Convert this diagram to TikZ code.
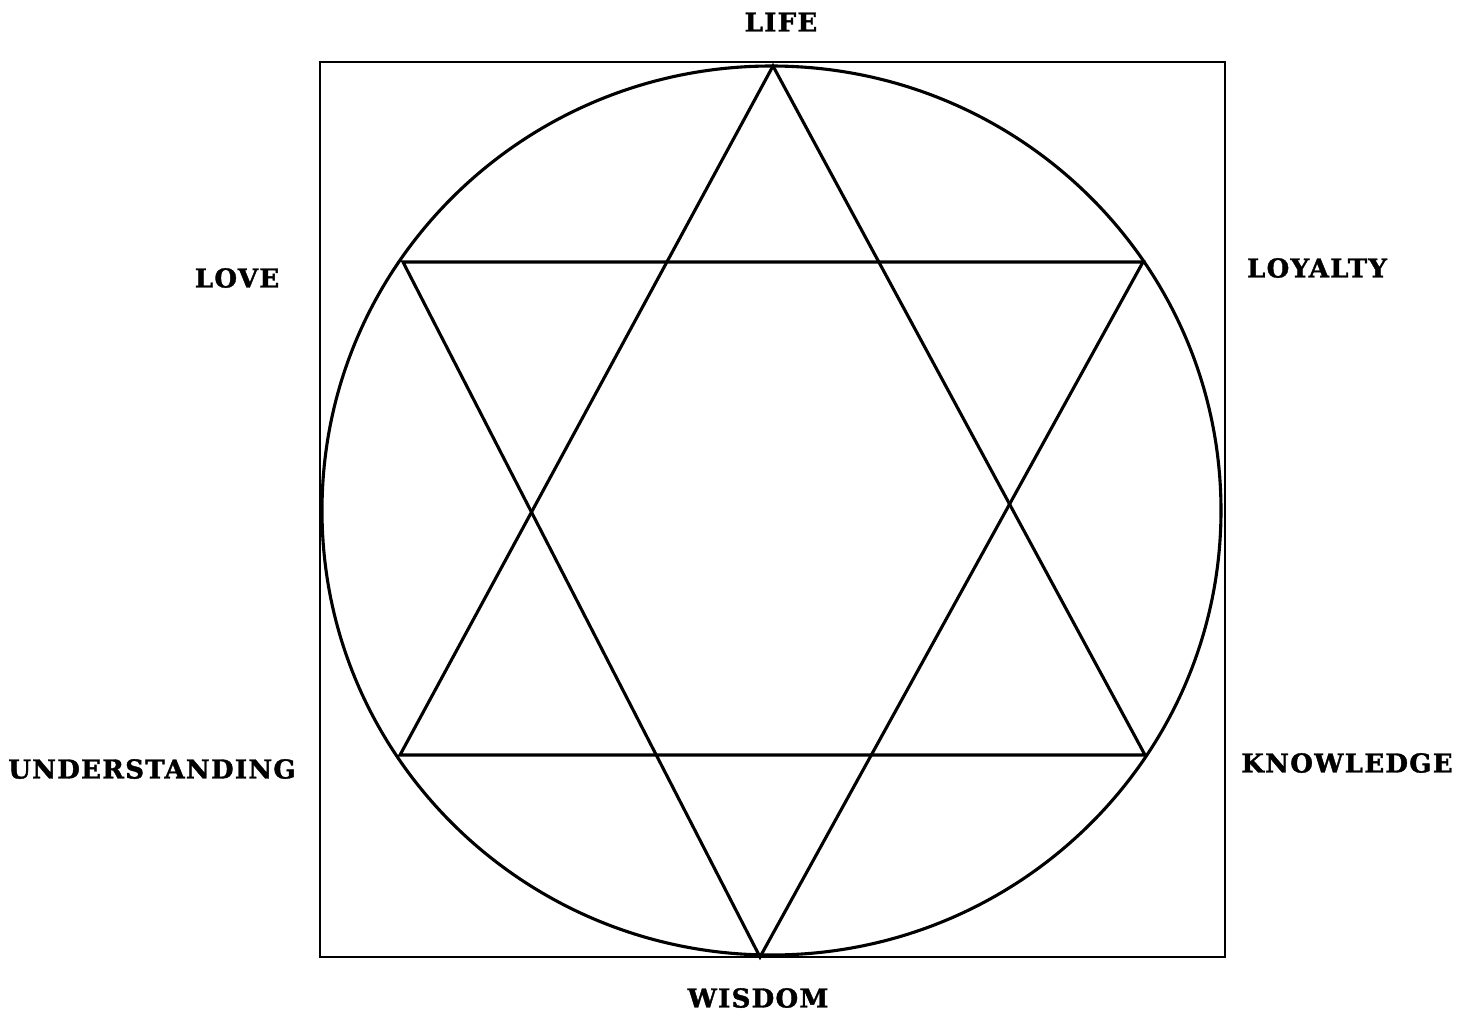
\documentclass[tikz,border=0pt]{standalone}
\usepackage{fontspec}
\setmainfont{DejaVu Serif}[LetterSpace=5, BoldFeatures={FakeBold=1.5}]
\begin{document}
\begin{tikzpicture}[x=1pt,y=-1pt,
  lbl/.style={font=\fontsize{26}{28}\selectfont\bfseries, inner sep=0pt},
  edge/.style={line width=3.1pt, line join=miter},
  frame/.style={line width=2.4pt}]
\useasboundingbox (0,0) rectangle (1457,1012);
\fill[white] (0,0) rectangle (1457,1012);
% frame and circle
\draw[frame] (320,62) rectangle (1225,957);
\draw[edge] (771.5,510.5) ellipse [x radius=449.5, y radius=444.5];
% star vertices
\coordinate (T) at (773,66);
\coordinate (BL) at (400,755);
\coordinate (BR) at (1145,755);
\coordinate (TL) at (403,262);
\coordinate (TR) at (1143,262);
\coordinate (B) at (760,957);
\draw[edge] (T) -- (BR) -- (BL) -- cycle;
\draw[edge] (TL) -- (TR) -- (B) -- cycle;
% labels
\node[lbl] (life) at (781,22) {LIFE};
\node[lbl] (love) at (237,278) {LOVE};
\node[lbl] (loyalty) at (1317,268) {LOYALTY};
\node[lbl] (und) at (152,769) {UNDERSTANDING};
\node[lbl] (know) at (1347,763) {KNOWLEDGE};
\node[lbl] (wisdom) at (758,998) {WISDOM};
\end{tikzpicture}
\end{document}
